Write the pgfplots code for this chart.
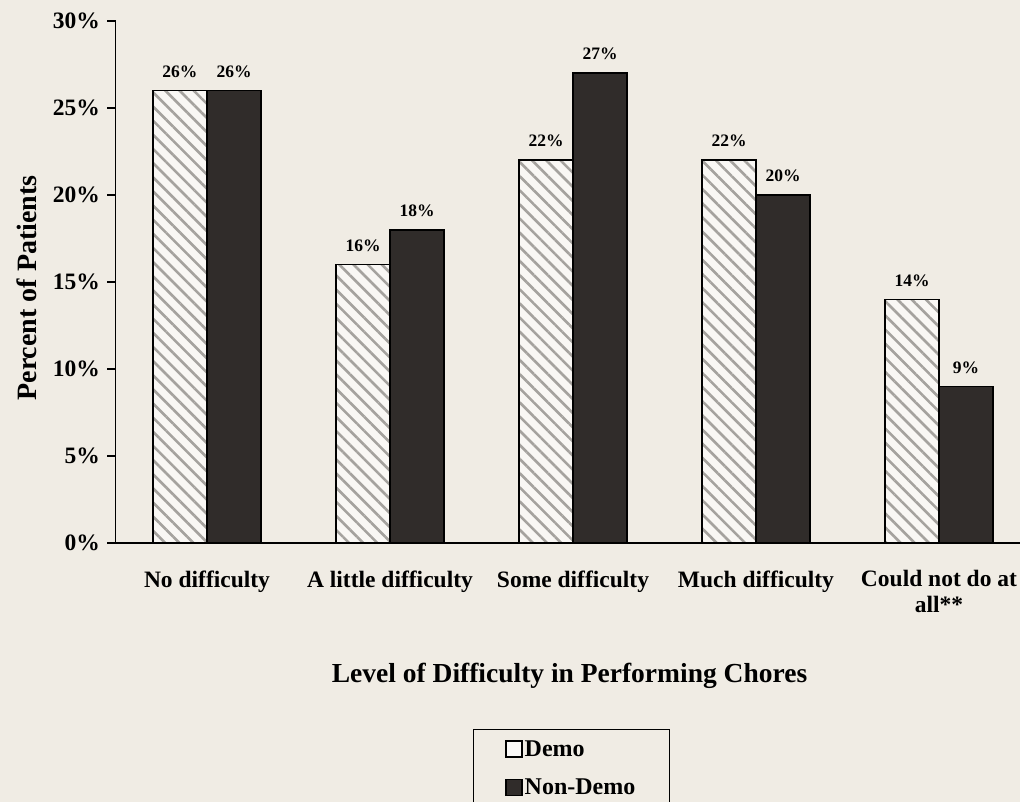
\documentclass[border=0pt]{standalone}
\usepackage{fontspec}
\setmainfont{Liberation Serif}
\usepackage{pgfplots}
\pgfplotsset{compat=1.18}
\usetikzlibrary{patterns.meta}
\definecolor{bg}{RGB}{240,236,228}
\definecolor{dark}{RGB}{48,44,42}
\definecolor{hatch}{RGB}{165,162,158}
\begin{document}
\begin{tikzpicture}[x=1pt,y=1pt]
\useasboundingbox (0,0) rectangle (1020,802);
\fill[bg] (0,0) rectangle (1020,802);
\begin{axis}[
  at={(115.5pt,259pt)}, anchor=south west,
  scale only axis, width=915pt, height=522pt,
  xmin=-0.5, xmax=4.5, ymin=0, ymax=30,
  axis lines*=left,
  axis line style={black, line width=1.2pt},
  ybar,
  tick align=outside,
  major tick length=8pt,
  minor tick length=8pt,
  tick style={black, line width=1.2pt},
  ytick={0,5,...,30},
  yticklabels={0\%,5\%,10\%,15\%,20\%,25\%,30\%},
  yticklabel style={xshift=-4pt},
  xtick={0,1,2,3,4},
  xtick style={draw=none},
  minor xtick={0.5,1.5,2.5,3.5},
  xticklabels={No difficulty, A little difficulty, Some difficulty, Much difficulty, {Could not do at\\all**}},
  xticklabel style={align=center, yshift=-16pt},
  tick label style={font=\fontsize{23.5}{26}\selectfont\bfseries},
  xlabel={Level of Difficulty in Performing Chores},
  xlabel style={at={(axis description cs:0.4962,-0.2682)}, anchor=base, font=\fontsize{27.5}{30}\selectfont\bfseries},
  ylabel={Percent of Patients},
  ylabel style={at={(axis description cs:-0.0967,0.4885)}, anchor=center, font=\fontsize{28}{30}\selectfont\bfseries},
  /pgf/number format/assume math mode=true,
  nodes near coords={\pgfmathprintnumber{\pgfplotspointmeta}\%},
  nodes near coords style={font=\fontsize{17.5}{20}\selectfont\bfseries, yshift=9pt},
  legend style={at={(axis description cs:0.3907,-0.3563)}, anchor=north west,
    draw=black, line width=1pt, fill=none,
    font=\fontsize{24}{28}\selectfont\bfseries,
    inner xsep=32pt, inner ysep=9pt, row sep=17pt},
  legend cell align=left,
]
\addplot[bar width=54pt, bar shift=-27pt, draw=black, line width=1.5pt,
  preaction={fill=white!60!bg},
  pattern={Lines[angle=-45,distance=10pt,line width=2.6pt]}, pattern color=hatch,
  legend image code/.code={\draw[black, line width=1.2pt, fill=white!70!bg] (0pt,-8pt) rectangle (16pt,8pt);}]
  coordinates {(0,26) (1,16) (2,22) (3,22) (4,14)};
\addlegendentry{Demo}
\addplot[bar width=54pt, bar shift=27pt, draw=black, line width=1.5pt, fill=dark,
  legend image code/.code={\draw[black, line width=1.2pt, fill=dark] (0pt,-8pt) rectangle (16pt,8pt);}]
  coordinates {(0,26) (1,18) (2,27) (3,20) (4,9)};
\addlegendentry{Non-Demo}
\end{axis}
\end{tikzpicture}
\end{document}
